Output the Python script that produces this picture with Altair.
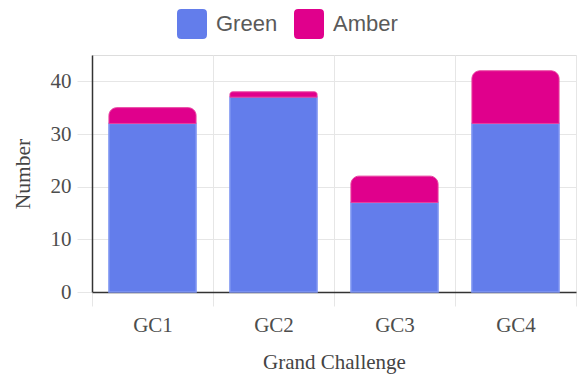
import altair as alt
import pandas as pd

categories = ["GC1", "GC2", "GC3", "GC4"]
green = [32, 37, 17, 32]
amber = [3, 1, 5, 10]

series_names = ["Green", "Amber"]
series_colors = ["#637DEB", "#E0008C"]
series_strokes = ["#8197F2", "#E8409F"]

df = pd.DataFrame({"cat": categories, "Green": green, "Amber": amber})

rounded_square = ("M -0.72 -1 L 0.72 -1 Q 1 -1 1 -0.72 L 1 0.72 Q 1 1 0.72 1 "
                  "L -0.72 1 Q -1 1 -1 0.72 L -1 -0.72 Q -1 -1 -0.72 -1 Z")

serif = "Liberation Serif"

x_enc = alt.X(
    "cat:N", sort=categories, title="Grand Challenge",
    scale=alt.Scale(paddingInner=0, paddingOuter=0),
    axis=alt.Axis(
        tickBand="extent", grid=True, gridColor="#e6e6e6", gridWidth=1,
        ticks=True, tickColor="#e6e6e6", tickSize=14, tickWidth=1,
        domainColor="#333333", domainWidth=1.5,
        labelFont=serif, labelFontSize=21, labelColor="#4d4d4d", labelPadding=8,
        labelAngle=0,
        titleFont=serif, titleFontSize=21, titleFontWeight="normal",
        titleColor="#444444", titlePadding=16,
    ),
)

y_axis = alt.Axis(
    values=[0, 10, 20, 30, 40], grid=True, gridColor="#e6e6e6", gridWidth=1,
    ticks=True, tickColor="#e6e6e6", tickSize=15, tickWidth=1,
    domainColor="#333333", domainWidth=1.5,
    labelFont=serif, labelFontSize=21, labelColor="#4d4d4d", labelPadding=6,
    titleFont=serif, titleFontSize=21.5, titleFontWeight="normal",
    titleColor="#444444", titlePadding=16,
)

color_scale = alt.Scale(domain=series_names, range=series_colors)
legend = alt.Legend(
    title=None, orient="none", direction="horizontal", legendX=85, legendY=-46,
    symbolType=rounded_square, symbolSize=900, symbolStrokeWidth=0,
    symbolOpacity=1, labelFont="Liberation Sans", labelFontSize=22,
    labelColor="#5a5a5a", labelOffset=9, columnPadding=16,
)

base = alt.Chart(df).transform_calculate(total="datum.Green + datum.Amber")

green_bars = base.transform_calculate(series="'Green'").mark_bar(
    width=alt.RelativeBandSize(0.72), stroke=series_strokes[0], strokeWidth=1.5
).encode(
    x=x_enc,
    y=alt.Y("Green:Q", title="Number", scale=alt.Scale(domain=[0, 45], nice=False), axis=y_axis),
    color=alt.Color("series:N", scale=color_scale, legend=legend),
)

amber_bars = base.transform_calculate(series="'Amber'").mark_bar(
    width=alt.RelativeBandSize(0.72), stroke=series_strokes[1], strokeWidth=1,
    cornerRadiusTopLeft=8, cornerRadiusTopRight=8,
).encode(
    x=alt.X("cat:N", sort=categories),
    y=alt.Y("total:Q"),
    y2="Green:Q",
    color=alt.Color("series:N", scale=color_scale, legend=legend),
)

chart = alt.layer(green_bars, amber_bars).properties(
    width=484, height=237,
    autosize=alt.AutoSizeParams(type="none"),
    padding={"left": 92, "top": 55, "right": 2, "bottom": 86},
).configure_view(stroke=None).configure(background="white")

chart.save("out.html", embed_options={"renderer": "svg", "actions": False})
